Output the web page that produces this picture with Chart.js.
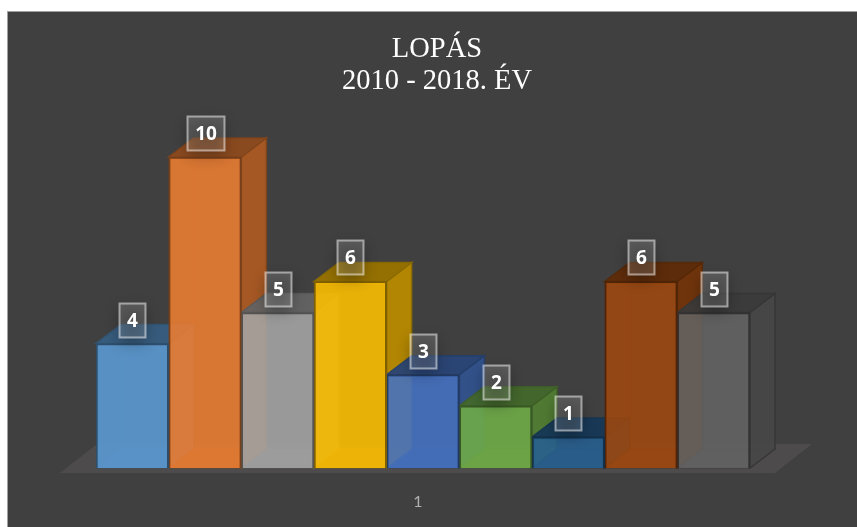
<!DOCTYPE html>
<html>
<head>
<meta charset="utf-8">
<script src="https://cdn.jsdelivr.net/npm/chart.js@4"></script>
<style>
  html, body { margin: 0; background: #fff; }
  canvas { display: block; }
</style>
</head>
<body>
<canvas id="barChart" width="857" height="527"></canvas>
<script>
var categories = ['1'];
var seriesNames = ['2010', '2011', '2012', '2013', '2014', '2015', '2016', '2017', '2018'];
var seriesValues = [4, 10, 5, 6, 3, 2, 1, 6, 5];
var seriesColors = ['#5B9BD5', '#ED7D31', '#A5A5A5', '#FFC000', '#4472C4', '#70AD47', '#255E91', '#9E480E', '#636363'];

var depthX = 25;
var depthY = 19;

function rgba(hex, factor, alpha) {
    var n = parseInt(hex.slice(1), 16);
    var r = Math.round((n >> 16 & 255) * factor);
    var g = Math.round((n >> 8 & 255) * factor);
    var b = Math.round((n & 255) * factor);
    return 'rgba(' + r + ',' + g + ',' + b + ',' + alpha + ')';
}

function poly(ctx, pts, fill, stroke) {
    ctx.beginPath();
    ctx.moveTo(pts[0][0], pts[0][1]);
    for (var i = 1; i < pts.length; i++) ctx.lineTo(pts[i][0], pts[i][1]);
    ctx.closePath();
    if (fill) { ctx.fillStyle = fill; ctx.fill(); }
    if (stroke) { ctx.strokeStyle = stroke; ctx.lineWidth = 1.5; ctx.stroke(); }
}

// background panel and the floor under the bars
var panelPlugin = {
    id: 'panel',
    beforeDraw: function (chart) {
        var ctx = chart.ctx;
        var area = chart.chartArea;
        ctx.save();
        ctx.fillStyle = '#a0a0a0';
        ctx.fillRect(7, 11, chart.width - 7, chart.height - 11);
        ctx.fillStyle = '#404040';
        ctx.fillRect(8, 12, chart.width - 8, chart.height - 12);
        poly(ctx, [
            [area.left - 36, area.bottom + 5],
            [area.right + 25, area.bottom + 5],
            [area.right + 62, area.bottom - 24],
            [area.left + 1, area.bottom - 24]
        ], '#4d4b4b');
        ctx.restore();
    }
};

// depth faces go under the native fronts, left to right
var depthPlugin = {
    id: 'depth',
    beforeDatasetsDraw: function (chart) {
        var ctx = chart.ctx;
        ctx.save();
        seriesValues.forEach(function (v, i) {
            var bar = chart.getDatasetMeta(i).data[0];
            var l = bar.x - bar.width / 2;
            var r = bar.x + bar.width / 2;
            var t = bar.y;
            var b = bar.base;
            var c = seriesColors[i];
            var edge = rgba(c, 0.55, 0.9);
            poly(ctx, [[l, b], [r, b], [r + depthX, b - depthY], [l + depthX, b - depthY]], rgba(c, 0.8, 0.25), rgba(c, 0.55, 0.35));
            ctx.strokeStyle = rgba(c, 0.55, 0.3);
            ctx.lineWidth = 1;
            ctx.beginPath();
            ctx.moveTo(l + depthX, t - depthY);
            ctx.lineTo(l + depthX, b - depthY);
            ctx.stroke();
            poly(ctx, [[r, t], [r + depthX, t - depthY], [r + depthX, b - depthY], [r, b]], rgba(c, 0.72, 0.95), edge);
            poly(ctx, [[l, t], [r, t], [r + depthX, t - depthY], [l + depthX, t - depthY]], rgba(c, 0.6, 0.95), edge);
        });
        ctx.restore();
    }
};

// value boxes above every bar
var labelPlugin = {
    id: 'valueBoxes',
    afterDatasetsDraw: function (chart) {
        var ctx = chart.ctx;
        ctx.save();
        ctx.font = 'bold 19px "Open Sans"';
        ctx.textAlign = 'center';
        ctx.textBaseline = 'middle';
        seriesValues.forEach(function (v, i) {
            var bar = chart.getDatasetMeta(i).data[0];
            var text = String(v);
            var w = v > 9 ? 37 : 26;
            var h = 34;
            var x = Math.round(bar.x - w / 2) + 0.5;
            var y = Math.round(bar.y - 24 - h / 2) + 0.5;
            ctx.save();
            ctx.shadowColor = 'rgba(0,0,0,0.3)';
            ctx.shadowBlur = 14;
            ctx.shadowOffsetX = 2000;
            ctx.shadowOffsetY = 5;
            ctx.fillStyle = '#000';
            ctx.fillRect(x - 2000, y, w, h);
            ctx.restore();
            ctx.fillStyle = 'rgba(255,255,255,0.15)';
            ctx.fillRect(x, y, w, h);
            ctx.strokeStyle = 'rgba(255,255,255,0.5)';
            ctx.lineWidth = 2;
            ctx.strokeRect(x, y, w, h);
            ctx.fillStyle = '#fff';
            ctx.fillText(text, x + w / 2, y + h / 2 + 1);
        });
        ctx.restore();
    }
};

var ctx = document.getElementById('barChart').getContext('2d');
var barChart = new Chart(ctx, {
    type: 'bar',
    data: {
        labels: categories,
        datasets: seriesNames.map(function (name, i) {
            return {
                label: name,
                data: [seriesValues[i]],
                backgroundColor: rgba(seriesColors[i], 1, 0.88),
                borderColor: rgba(seriesColors[i], 0.5, 0.95),
                borderWidth: 2,
                categoryPercentage: 1,
                barPercentage: 1
            };
        })
    },
    options: {
        responsive: false,
        animation: false,
        layout: {
            padding: { left: 96, right: 79, top: 0, bottom: 0 }
        },
        scales: {
            x: {
                grid: { display: false },
                border: { display: false },
                ticks: { color: '#b0b0b0', font: { family: 'Lato', size: 16 }, padding: 16, labelOffset: -5 },
                afterFit: function (scale) { scale.height = 59; }
            },
            y: {
                position: 'right',
                min: 0,
                max: 10,
                grid: { display: false },
                border: { display: false },
                ticks: { display: false },
                afterFit: function (scale) { scale.width = 28; }
            }
        },
        plugins: {
            legend: { display: false },
            tooltip: { enabled: false },
            title: {
                display: true,
                text: ['LOPÁS', '2010 - 2018. ÉV'],
                color: '#ffffff',
                font: { family: 'Liberation Serif', size: 28.5, weight: 'normal', lineHeight: 1.123 },
                padding: { top: 34, bottom: 59 }
            }
        }
    },
    plugins: [panelPlugin, depthPlugin, labelPlugin]
});
</script>
</body>
</html>
